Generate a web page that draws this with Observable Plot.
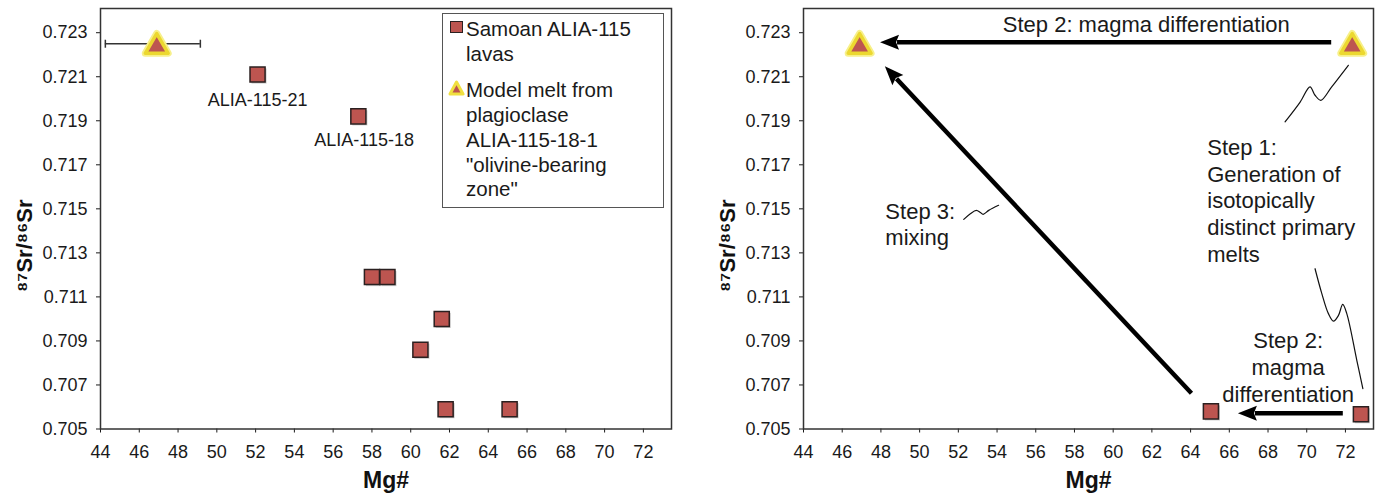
<!DOCTYPE html>
<html>
<head>
<meta charset="utf-8">
<script src="https://cdn.jsdelivr.net/npm/d3@7"></script>
<script src="https://cdn.jsdelivr.net/npm/@observablehq/plot@0.6"></script>
<style>
  html, body { margin: 0; padding: 0; background: #fff; }
  #wrap { position: relative; width: 1379px; height: 496px; display: flex; font-family: "Liberation Sans", Arial, sans-serif; color: #1a1a1a; }
  #wrap svg { display: block; }
  .leg-box { position: absolute; left: 442px; top: 13px; width: 222px; height: 195px; border: 1.5px solid #555; box-sizing: border-box; background: #fff; }
  .leg-text { position: absolute; font-size: 20.5px; line-height: 24.7px; white-space: nowrap; color: #1a1a1a; }
  .leg-sq { position: absolute; left: 450px; top: 21px; width: 13px; height: 12px; background: #bd5550; border: 1.5px solid #2b2020; box-sizing: border-box; }
  .leg-tri { position: absolute; left: 448px; top: 80px; }
</style>
</head>
<body>
<div id="wrap"></div>
<script>
// ---------- data ----------
const xTicks = [44, 46, 48, 50, 52, 54, 56, 58, 60, 62, 64, 66, 68, 70, 72];
const yTicks = [0.705, 0.707, 0.709, 0.711, 0.713, 0.715, 0.717, 0.719, 0.721, 0.723];
const xDomain = [44, 73.45];
const yDomain = [0.705, 0.7241];

// left panel: Samoan ALIA-115 lavas
const lavaMg = [52.1, 57.3, 58.0, 58.8, 61.6, 60.5, 61.8, 65.1];
const lavaSr = [0.7211, 0.7192, 0.7119, 0.7119, 0.7100, 0.7086, 0.7059, 0.7059];
// model melt
const modelMg = [46.9];
const modelSr = [0.7225];
const modelErrLo = [44.25];
const modelErrHi = [49.15];
// point labels
const labelText = ["ALIA-115-21", "ALIA-115-18"];
const labelMg = [52.1, 57.6];
const labelSr = [0.71993, 0.7181];

// right panel
const rTriMg = [46.9, 72.35];
const rTriSr = [0.7225, 0.7225];
const rSqMg = [65.05, 72.8];
const rSqSr = [0.7058, 0.70567];
const arrowX1 = [71.29, 71.89, 64.07];
const arrowY1 = [0.72254, 0.70569, 0.7066];
const arrowX2 = [47.98, 66.47, 48.23];
const arrowY2 = [0.72254, 0.70569, 0.72145];
const annText = ["Step 2: magma differentiation", "Step 1:\nGeneration of\nisotopically\ndistinct primary\nmelts", "Step 2:\nmagma\ndifferentiation", "Step 3:\nmixing"];
const annMg = [61.71, 64.86, 69.04, 48.23];
const annSr = [0.72343, 0.71541, 0.70783, 0.71434];
const annAnchor = ["middle", "start", "middle", "start"];
// hand-drawn leader squiggles [Mg#, Sr]
const squiggle1 = [[72.15, 0.72152], [71.29, 0.72054], [70.73, 0.71993], [70.43, 0.72016], [70.17, 0.72054], [69.66, 0.71985], [68.88, 0.71895]];
const squiggle2 = [[70.43, 0.71228], [70.78, 0.71115], [71.12, 0.71024], [71.38, 0.70990], [71.64, 0.71016], [71.86, 0.71066], [72.07, 0.71024], [72.59, 0.70811], [72.90, 0.70683]];
const squiggle3 = [[52.28, 0.71452], [52.62, 0.71478], [52.93, 0.71493], [53.14, 0.71483], [53.28, 0.71475], [53.57, 0.71493], [54.08, 0.71516]];

const xTitle = "Mg#";
const yTitle = "\u2078\u2077Sr/\u2078\u2076Sr";

// ---------- style ----------
const RED = "#bd5550";
const EDGE = "#2b2020";
const FONT = "Liberation Sans, Arial, sans-serif";

const lavas = lavaMg.map((x, i) => ({x, y: lavaSr[i]}));
const model = modelMg.map((x, i) => ({x, y: modelSr[i], lo: modelErrLo[i], hi: modelErrHi[i]}));
const caps = model.flatMap(d => [{x: d.lo, y: d.y}, {x: d.hi, y: d.y}]);
const labels = labelText.map((t, i) => ({t, x: labelMg[i], y: labelSr[i]}));
const rTri = rTriMg.map((x, i) => ({x, y: rTriSr[i]}));
const rSq = rSqMg.map((x, i) => ({x, y: rSqSr[i]}));
const arrows = arrowX1.map((x1, i) => ({x1, y1: arrowY1[i], x2: arrowX2[i], y2: arrowY2[i]}));
const ann = annText.map((t, i) => ({t, x: annMg[i], y: annSr[i], a: annAnchor[i]}));
const toPts = (arr, id) => arr.map(([x, y]) => ({x, y, id}));
const squiggles = [...toPts(squiggle1, 1), ...toPts(squiggle2, 2), ...toPts(squiggle3, 3)];

const capSymbol = { draw(ctx) { ctx.moveTo(0, -4); ctx.lineTo(0, 4); } };

function arrowMark(data, {shaft = 4.5, headLen = 19, headWidth = 15} = {}) {
  return (index, scales) => {
    const g = d3.create("svg:g");
    for (const a of data) {
      const x1 = scales.x(a.x1), y1 = scales.y(a.y1), x2 = scales.x(a.x2), y2 = scales.y(a.y2);
      const ang = Math.atan2(y2 - y1, x2 - x1);
      const ux = Math.cos(ang), uy = Math.sin(ang);
      const bx = x2 - ux * headLen, by = y2 - uy * headLen;
      g.append("line")
        .attr("x1", x1).attr("y1", y1).attr("x2", bx + ux * 2).attr("y2", by + uy * 2)
        .attr("stroke", "#000").attr("stroke-width", shaft);
      const hw = headWidth / 2;
      g.append("path")
        .attr("d", `M${x2},${y2}L${bx - uy * hw},${by + ux * hw}L${bx + ux * 3},${by + uy * 3}L${bx + uy * hw},${by - ux * hw}Z`)
        .attr("fill", "#000");
    }
    return g.node();
  };
}

function triangleMarks(data) {
  return [
    Plot.dot(data, {x: "x", y: "y", symbol: "triangle", r: 8.5, fill: RED, stroke: "#f7f08a", strokeWidth: 7, strokeLinejoin: "round", dy: 3}),
    Plot.dot(data, {x: "x", y: "y", symbol: "triangle", r: 8.5, fill: RED, stroke: "#ecd830", strokeWidth: 3.5, strokeLinejoin: "round", dy: 3})
  ];
}
function squareMarks(data) {
  return [
    Plot.dot(data, {x: "x", y: "y", symbol: "square", r: 8.5, fill: "#999", fillOpacity: 0.5, dx: 1.5, dy: 1.5}),
    Plot.dot(data, {x: "x", y: "y", symbol: "square", r: 8.5, fill: RED, stroke: EDGE, strokeWidth: 1.5})
  ];
}
function titleMarks() {
  return [
    Plot.text([xTitle], {frameAnchor: "bottom", dy: 52, fontSize: 23, fontWeight: "bold", textAnchor: "middle", lineAnchor: "middle", fill: "#111"}),
    Plot.text([yTitle], {frameAnchor: "left", dx: -76, dy: 27, rotate: -90, fontSize: 22, fontWeight: "bold", textAnchor: "middle", lineAnchor: "middle", fill: "#111"})
  ];
}

function makePlot({width, marginLeft, marginRight, marks}) {
  return Plot.plot({
    width, height: 496,
    marginLeft, marginRight, marginTop: 8, marginBottom: 67.5,
    style: {fontFamily: FONT, fontSize: "18px", color: "#1a1a1a", background: "#fff", overflow: "visible"},
    x: {domain: xDomain, ticks: xTicks, tickSize: 4, tickPadding: 12, tickFormat: d3.format("d"), label: null},
    y: {domain: yDomain, ticks: yTicks, tickSize: 4, tickPadding: 9, tickFormat: d3.format(".3f"), label: null},
    marks: [
      Plot.frame({stroke: "#333", strokeWidth: 1.5}),
      ...marks,
      ...titleMarks()
    ]
  });
}

const left = makePlot({
  width: 690, marginLeft: 100, marginRight: 19,
  marks: [
    Plot.ruleY(model, {y: "y", x1: "lo", x2: "hi", stroke: "#333", strokeWidth: 1.5}),
    Plot.dot(caps, {x: "x", y: "y", symbol: capSymbol, stroke: "#333", strokeWidth: 1.5}),
    ...squareMarks(lavas),
    ...triangleMarks(model),
    Plot.text(labels, {x: "x", y: "y", text: "t", fontSize: 18, textAnchor: "middle", lineAnchor: "middle", fill: "#1a1a1a"})
  ]
});

const right = makePlot({
  width: 689, marginLeft: 113, marginRight: 6,
  marks: [
    Plot.line(squiggles, {x: "x", y: "y", z: "id", curve: "catmull-rom", stroke: "#111", strokeWidth: 1.2}),
    Plot.text(ann.filter(d => d.a === "middle"), {x: "x", y: "y", text: "t", fontSize: 22, lineHeight: 1.22, textAnchor: "middle", lineAnchor: "middle", fill: "#1a1a1a"}),
    Plot.text(ann.filter(d => d.a === "start"), {x: "x", y: "y", text: "t", fontSize: 22, lineHeight: 1.22, textAnchor: "start", lineAnchor: "middle", fill: "#1a1a1a"}),
    arrowMark(arrows),
    ...squareMarks(rSq),
    ...triangleMarks(rTri)
  ]
});

const wrap = document.getElementById("wrap");
wrap.append(left, right);

// legend (left panel)
const legendItems = [["Samoan ALIA-115", "lavas"], ["Model melt from", "plagioclase", "ALIA-115-18-1", "\"olivine-bearing", "zone\""]];
const box = document.createElement("div"); box.className = "leg-box"; wrap.append(box);
const sq = document.createElement("div"); sq.className = "leg-sq"; wrap.append(sq);
const tri = document.createElement("div"); tri.className = "leg-tri";
tri.innerHTML = `<svg width="17" height="16" viewBox="0 0 17 16"><polygon points="8.5,2 15,14 2,14" fill="${RED}" stroke="#f0e040" stroke-width="3" stroke-linejoin="round"/></svg>`;
wrap.append(tri);
const tops = [17, 78.4];
legendItems.forEach((lines, i) => {
  const t = document.createElement("div");
  t.className = "leg-text";
  t.style.left = "466px";
  t.style.top = tops[i] + "px";
  t.innerHTML = lines.map(s => s.replace(/&/g, "&amp;").replace(/</g, "&lt;")).join("<br>");
  wrap.append(t);
});
</script>
</body>
</html>
